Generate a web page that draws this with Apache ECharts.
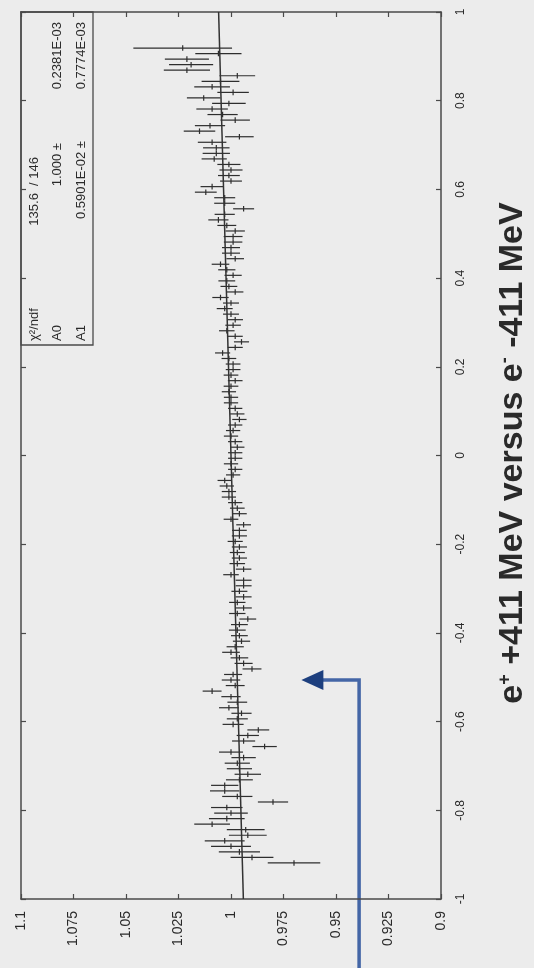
<!DOCTYPE html>
<html>
<head>
<meta charset="utf-8">
<script src="https://cdn.jsdelivr.net/npm/echarts@6/dist/echarts.min.js"></script>
<style>
  html, body { margin: 0; padding: 0; background: #ececec; }
  #chart { width: 534px; height: 968px; }
</style>
</head>
<body>
<div id="chart"></div>
<script>
// histogram bins along cos(theta), 148 bins of width 0.0125
const binLow = -0.925
const binWidth = 0.0125

// ratio e+ / e- per bin, ascending bin order
const ratio = [
  0.970, 0.990, 0.996, 1.000, 1.003, 0.992, 0.993, 1.009, 1.002, 1.000,
  1.002, 0.980, 0.997, 1.003, 1.003, 0.996, 0.992, 0.996, 0.997, 0.994,
  1.000, 0.984, 0.994, 0.992, 0.987, 0.999, 0.997, 0.995, 1.001, 0.997,
  1.000, 1.009, 0.998, 1.000, 0.999, 0.990, 0.994, 0.996, 1.000, 0.998,
  0.995, 0.996, 0.997, 0.996, 0.992, 0.997, 0.994, 0.997, 0.994, 0.996,
  0.994, 0.994, 1.000, 0.994, 0.997, 0.996, 0.997, 0.996, 0.998, 0.996,
  0.996, 0.994, 1.000, 0.996, 0.997, 0.998, 1.001, 1.001, 1.002, 1.003,
  0.999, 0.998, 1.000, 0.998, 0.998, 0.997, 0.998, 1.000, 0.999, 0.998,
  0.996, 0.997, 0.998, 1.000, 1.000, 1.001, 1.000, 0.998, 1.000, 0.999,
  0.999, 1.001, 1.004, 0.998, 0.995, 0.998, 1.002, 0.999, 0.998, 1.000,
  1.003, 1.000, 1.005, 0.998, 1.001, 1.002, 0.999, 1.002, 1.005, 0.998,
  1.000, 1.000, 0.999, 0.999, 0.998, 1.002, 1.006, 1.003, 0.994, 1.003,
  1.003, 1.012, 1.009, 1.000, 1.001, 1.000, 1.001, 1.008, 1.007, 1.007,
  1.009, 0.996, 1.015, 1.010, 0.998, 1.004, 1.009, 1.001, 1.013, 0.999,
  1.009, 1.005, 0.997, 1.021, 1.019, 1.021, 1.006, 1.023,
]

const ratioErr = [
  0.0125, 0.0102, 0.0098, 0.0095, 0.0095, 0.0090, 0.0090, 0.0085, 0.0085, 0.0080,
  0.0075, 0.0072, 0.0072, 0.0070, 0.0065, 0.0064, 0.0063, 0.0060, 0.0060, 0.0058,
  0.0057, 0.0058, 0.0055, 0.0053, 0.0052, 0.0050, 0.0050, 0.0048, 0.0047, 0.0047,
  0.0046, 0.0045, 0.0045, 0.0044, 0.0043, 0.0045, 0.0043, 0.0042, 0.0042, 0.0041,
  0.0041, 0.0040, 0.0040, 0.0040, 0.0040, 0.0039, 0.0039, 0.0039, 0.0038, 0.0038,
  0.0038, 0.0038, 0.0037, 0.0037, 0.0037, 0.0036, 0.0036, 0.0036, 0.0036, 0.0036,
  0.0035, 0.0035, 0.0035, 0.0035, 0.0035, 0.0034, 0.0034, 0.0034, 0.0034, 0.0034,
  0.0034, 0.0034, 0.0034, 0.0034, 0.0034, 0.0034, 0.0034, 0.0034, 0.0034, 0.0034,
  0.0034, 0.0034, 0.0034, 0.0034, 0.0034, 0.0034, 0.0035, 0.0035, 0.0035, 0.0035,
  0.0035, 0.0035, 0.0036, 0.0036, 0.0036, 0.0036, 0.0037, 0.0037, 0.0037, 0.0038,
  0.0038, 0.0038, 0.0039, 0.0039, 0.0040, 0.0040, 0.0041, 0.0041, 0.0042, 0.0042,
  0.0043, 0.0043, 0.0044, 0.0045, 0.0046, 0.0045, 0.0048, 0.0048, 0.0050, 0.0050,
  0.0050, 0.0052, 0.0055, 0.0052, 0.0052, 0.0055, 0.0055, 0.0060, 0.0065, 0.0063,
  0.0068, 0.0068, 0.0075, 0.0072, 0.0070, 0.0072, 0.0075, 0.0080, 0.0080, 0.0075,
  0.0085, 0.0090, 0.0085, 0.0110, 0.0105, 0.0105, 0.0110, 0.0235,
]

// straight-line fit A0 + A1*x, drawn at x = -1 and x = 1
const fitX = [-1, 1]
const fitValue = [0.9941, 1.0059]

const statsRows = [
  ['χ²/ndf', '135.6  / 146', ''],
  ['A0', '1.000 ±', '0.2381E-03'],
  ['A1', '0.5901E-02 ±', '0.7774E-03'],
]

const titleText = '{m|e}{s|+}{m| +411 MeV versus e}{s|-}{m| -411 MeV}'

// arrow annotation: tip [ratio, x] and the ratio where its shaft runs
const arrowTip = [0.9665, -0.506]
const arrowShaft = 0.939

const font = "'Liberation Sans', Arial, sans-serif"
const ink = '#2a2a2a'
const frame = { lineStyle: { color: '#4a4a4a', width: 1.5 } }
const tick = { show: true, inside: true, length: 5, lineStyle: { color: '#4a4a4a', width: 1.2 } }

const points = ratio.map((v, i) => [v, binLow + binWidth * (i + 0.5), ratioErr[i]])

function valueAxis(position, showLabel) {
  return {
    type: 'value',
    position,
    min: 0.9,
    max: 1.1,
    interval: 0.025,
    inverse: true,
    axisLine: { show: true, onZero: false, ...frame },
    axisTick: tick,
    axisLabel: { show: showLabel, rotate: 90, margin: 12, fontSize: 14, color: ink, fontFamily: font },
    splitLine: { show: false },
  }
}

function cosAxis(position, showLabel) {
  return {
    type: 'value',
    position,
    min: -1,
    max: 1,
    interval: 0.2,
    axisLine: { show: true, onZero: false, ...frame },
    axisTick: tick,
    axisLabel: { show: showLabel, rotate: 90, margin: 14, fontSize: 12, color: ink, fontFamily: font },
    splitLine: { show: false },
  }
}

function statsGraphics() {
  const colX = [34, 57, 81]
  const valueEnd = [157, 143, 141]
  const items = [{
    type: 'rect',
    shape: { x: 21, y: 12, width: 72, height: 333 },
    style: { fill: 'none', stroke: '#4a4a4a', lineWidth: 1.3 },
  }]
  const txt = (x, y, text, align) => ({
    type: 'text', x, y, rotation: Math.PI / 2,
    style: {
      text, font: `13px ${font}`, fill: ink,
      align, textAlign: align, verticalAlign: 'middle', textVerticalAlign: 'middle',
    },
  })
  statsRows.forEach((row, i) => {
    items.push(txt(colX[i], 341, row[0], 'left'))
    items.push(txt(colX[i], valueEnd[i], row[1], 'right'))
    if (row[2]) items.push(txt(colX[i], 22, row[2], 'right'))
  })
  return items
}

function titleGraphic() {
  return {
    type: 'text',
    x: 513,
    y: 453,
    rotation: Math.PI / 2,
    style: {
      text: titleText,
      align: 'center', textAlign: 'center',
      verticalAlign: 'middle', textVerticalAlign: 'middle',
      rich: {
        m: { fontSize: 34, fontWeight: 'bold', fontFamily: font, fill: ink, color: ink },
        s: { fontSize: 18, fontWeight: 'bold', fontFamily: font, fill: ink, color: ink, verticalAlign: 'top' },
      },
    },
  }
}

function buildOption() {
  return {
    backgroundColor: '#ececec',
    animation: false,
    grid: { left: 21, right: 93, top: 12, bottom: 69 },
    xAxis: [valueAxis('bottom', true), valueAxis('top', false)],
    yAxis: [cosAxis('right', true), cosAxis('left', false)],
    series: [
      {
        type: 'custom',
        xAxisIndex: 0,
        yAxisIndex: 0,
        data: points,
        encode: { x: 0, y: 1 },
        renderItem(params, api) {
          const v = api.value(0)
          const x = api.value(1)
          const e = api.value(2)
          const a = api.coord([v - e, x])
          const b = api.coord([v + e, x])
          const c = api.coord([v, x - binWidth / 2])
          const d = api.coord([v, x + binWidth / 2])
          const style = { stroke: '#2e2e2e', lineWidth: 1.2 }
          return {
            type: 'group',
            children: [
              { type: 'line', shape: { x1: a[0], y1: a[1], x2: b[0], y2: b[1] }, style },
              { type: 'line', shape: { x1: c[0], y1: c[1], x2: d[0], y2: d[1] }, style },
            ],
          }
        },
      },
      {
        type: 'line',
        xAxisIndex: 0,
        yAxisIndex: 0,
        data: fitValue.map((v, i) => [v, fitX[i]]),
        symbol: 'none',
        lineStyle: { color: '#333', width: 1.5 },
      },
    ],
    graphic: [...statsGraphics(), titleGraphic()],
  }
}

const chart = echarts.init(document.getElementById('chart'))
chart.setOption(buildOption())

// blue arrow drawn on top, positioned through the grid's scales
const tip = chart.convertToPixel({ gridIndex: 0 }, arrowTip)
const shaftX = chart.convertToPixel({ xAxisIndex: 0 }, arrowShaft)
chart.setOption({
  graphic: [
    ...statsGraphics(),
    titleGraphic(),
    {
      type: 'polyline',
      shape: { points: [[shaftX, 968], [shaftX, tip[1]], [tip[0] + 18, tip[1]]] },
      style: { stroke: '#4466a6', lineWidth: 3.5, fill: null },
    },
    {
      type: 'polygon',
      shape: { points: [[tip[0], tip[1]], [tip[0] + 22, tip[1] - 10], [tip[0] + 22, tip[1] + 10]] },
      style: { fill: '#1d3f7e' },
    },
  ],
})
</script>
</body>
</html>
